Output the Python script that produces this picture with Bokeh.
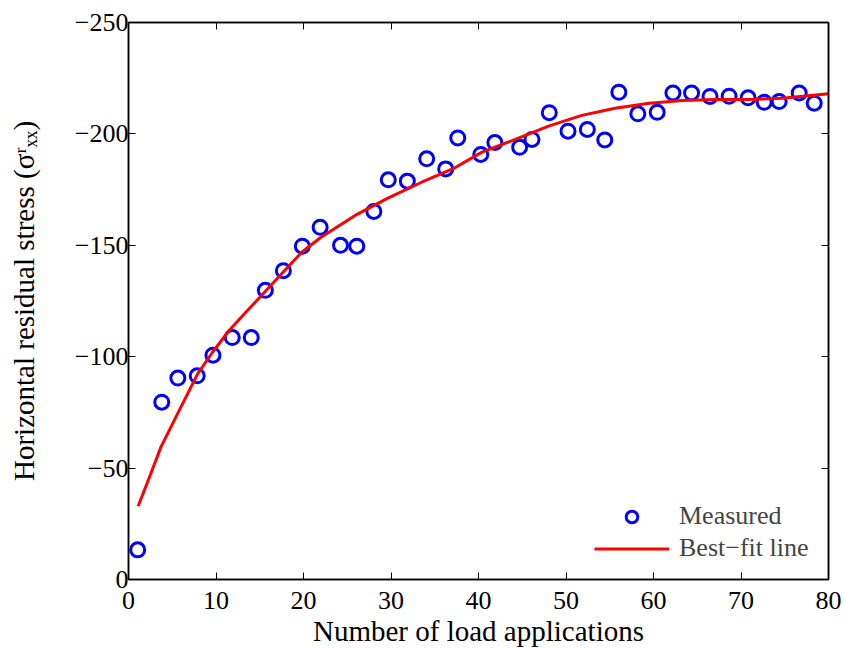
from bokeh.plotting import figure
from bokeh.models import Range1d, LinearAxis, FixedTicker, Legend, LegendItem
from bokeh.embed import file_html
from bokeh.resources import INLINE

cycles = [1.05, 3.80, 5.64, 7.85, 9.65, 11.86, 14.03, 15.64, 17.70, 19.87,
          21.90, 24.23, 26.09, 28.04, 29.69, 31.87, 34.08, 36.25, 37.63, 40.26,
          41.87, 44.70, 46.11, 48.09, 50.23, 52.44, 54.43, 56.04, 58.21, 60.42,
          62.22, 64.35, 66.46, 68.64, 70.81, 72.65, 74.36, 76.65, 78.37]
stress = [-13.3, -79.6, -90.4, -91.4, -100.7, -108.6, -108.6, -129.8, -138.6, -149.6,
          -158.1, -150.0, -149.6, -165.2, -179.4, -178.8, -188.8, -184.3, -198.2, -190.8,
          -196.1, -194.0, -197.5, -209.5, -201.2, -202.0, -197.3, -218.7, -209.0, -209.7,
          -218.4, -218.4, -216.8, -216.9, -216.2, -214.2, -214.5, -218.4, -213.8]

# Best-fit line
fit_x = [1.1, 2.5, 3.7, 5.8, 7.9, 9.6, 11.5, 13.3, 15.2, 17.5, 19.8, 22.0, 25.9,
         29.7, 33.5, 37.3, 40.4, 44.2, 48.0, 51.8, 55.6, 59.5, 63.3, 67.1, 70.9, 74.7, 80.0]
fit_y = [-32.9, -47.0, -59.4, -75.9, -92.3, -102.0, -111.8, -119.5, -127.5, -137.2,
         -146.9, -153.6, -163.4, -171.3, -178.3, -184.8, -191.8, -197.5, -203.5, -208.3,
         -211.5, -213.8, -215.0, -215.4, -215.4, -216.0, -218.0]

x_ticks = [0, 10, 20, 30, 40, 50, 60, 70, 80]
y_ticks = [0, -50, -100, -150, -200, -250]
y_tick_labels = {0: "0", -50: "\u221250", -100: "\u2212100", -150: "\u2212150",
                 -200: "\u2212200", -250: "\u2212250"}

FONT = "Liberation Serif"
FS = "26px"
LFS = "29px"

p = figure(frame_width=700, frame_height=557,
           x_range=Range1d(0, 80), y_range=Range1d(0, -250),
           output_backend="svg", toolbar_location=None,
           min_border_left=128, min_border_top=22, min_border_right=16,
           min_border_bottom=69, x_axis_location=None, y_axis_location=None)
p.xgrid.visible = False
p.ygrid.visible = False
p.outline_line_color = "black"
p.outline_line_width = 1.5
p.background_fill_color = "white"
p.border_fill_color = "white"

def style_axis(ax, ticks, show_labels):
    ax.ticker = FixedTicker(ticks=ticks)
    ax.axis_line_color = "black"
    ax.axis_line_width = 1.5
    ax.major_tick_in = 7
    ax.major_tick_out = 0
    ax.major_tick_line_color = "black"
    ax.major_tick_line_width = 1
    ax.minor_tick_line_color = None
    ax.major_label_text_font = FONT
    ax.major_label_text_font_size = FS
    ax.major_label_text_color = "black"
    ax.axis_label_text_font = FONT
    ax.axis_label_text_font_size = LFS
    ax.axis_label_text_font_style = "normal"
    ax.axis_label_text_color = "black"
    if not show_labels:
        ax.major_label_text_font_size = "0px"
        ax.major_label_text_alpha = 0

xb = LinearAxis(axis_label="Number of load applications")
style_axis(xb, x_ticks, True)
xb.major_label_standoff = 12
xb.axis_label_standoff = 3
p.add_layout(xb, "below")

yl = LinearAxis(axis_label="Horizontal residual stress (\u03c3\u02b3\u2093\u2093)")
style_axis(yl, y_ticks, True)
yl.major_label_overrides = y_tick_labels
yl.major_label_standoff = 0
yl.axis_label_standoff = 32
p.add_layout(yl, "left")

xt = LinearAxis()
style_axis(xt, x_ticks, False)
p.add_layout(xt, "above")

yr = LinearAxis()
style_axis(yr, y_ticks, False)
p.add_layout(yr, "right")

r_pts = p.scatter(cycles, stress, marker="circle", size=14, fill_color=None,
                  line_color="#0000ff", line_width=3)
r_fit = p.line(fit_x, fit_y, line_color="#ff0000", line_width=3)

legend = Legend(items=[LegendItem(label="Measured", renderers=[r_pts]),
                       LegendItem(label="Best\u2212fit line", renderers=[r_fit])],
                location="bottom_right")
legend.border_line_color = None
legend.background_fill_alpha = 0
legend.label_text_font = FONT
legend.label_text_font_size = FS
legend.glyph_width = 75
legend.glyph_height = 29
legend.label_height = 29
legend.label_width = 133
legend.spacing = 2
legend.label_standoff = 10
legend.margin = 16
legend.padding = 6
p.add_layout(legend)

open("out.html", "w").write(file_html(p, INLINE))
